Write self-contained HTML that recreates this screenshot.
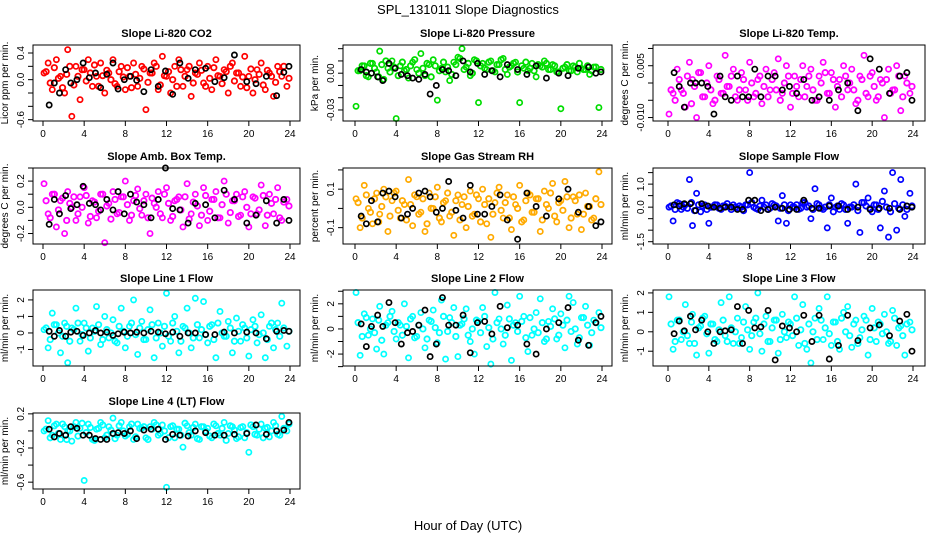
<!DOCTYPE html>
<html><head><meta charset="utf-8"><style>
html,body{margin:0;padding:0;background:#fff;}
svg{display:block;font-family:"Liberation Sans",sans-serif;}
</style></head><body>
<svg id="chart" width="936" height="540" viewBox="0 0 936 540" xmlns="http://www.w3.org/2000/svg">
<text x="468" y="14" text-anchor="middle" font-size="13">SPL_131011  Slope Diagnostics</text>
<text x="468" y="530" text-anchor="middle" font-size="13">Hour of Day (UTC)</text>
</svg>
<script>
var hoursColored=[0.1,0.5,0.9,1.3,1.7,2.1,2.4,2.8,3.2,3.6,4.0,4.4,4.8,5.2,5.6,6.0,6.4,6.8,7.2,7.6,8.0,8.4,8.8,9.2,9.6,10.0,10.4,10.8,11.2,11.6,12.0,12.4,12.8,13.2,13.6,14.0,14.4,14.8,15.2,15.6,16.0,16.4,16.8,17.2,17.6,18.0,18.4,18.8,19.2,19.6,20.0,20.4,20.8,21.2,21.6,22.0,22.4,22.8,23.2,23.7];
var hoursDense=[0.3,0.7,1.1,1.5,1.9,2.3,2.6,3.0,3.4,3.8,4.2,4.6,5.0,5.4,5.8,6.2,6.6,7.0,7.4,7.8,8.2,8.6,9.0,9.4,9.8,10.2,10.6,11.0,11.4,11.8,12.2,12.6,13.0,13.4,13.8,14.2,14.6,15.0,15.4,15.8,16.2,16.6,17.0,17.4,17.8,18.2,18.6,19.0,19.4,19.8,20.2,20.6,21.0,21.4,21.8,22.2,22.6,23.0,23.4,23.9];
var hoursBlack=[0.6,1.1,1.6,2.2,2.7,3.3,3.9,4.5,5.1,5.6,6.2,6.8,7.3,7.9,8.5,9.1,9.8,10.5,11.2,11.9,12.6,13.3,14.1,14.8,15.8,16.7,17.6,18.6,19.8,20.7,21.7,22.7,23.4,23.9];
var xTicks=[0,4,8,12,16,20,24];
var titles=["Slope Li-820 CO2","Slope Li-820 Pressure","Slope Li-820 Temp.","Slope Amb. Box Temp.","Slope Gas Stream RH","Slope Sample Flow","Slope Line 1 Flow","Slope Line 2 Flow","Slope Line 3 Flow","Slope Line 4 (LT) Flow"];
var yLabels=["Licor ppm per min.","kPa per min.","degrees C per min.","degrees C per min.","percent per min.","ml/min per min.","ml/min per min.","ml/min per min.","ml/min per min.","ml/min per min."];
var colors=["#ff0000","#00dd00","#ff00ff","#ff00ff","#ffaa00","#0000ff","#00ffff","#00ffff","#00ffff","#00ffff"];
var yMin=[-0.62,-0.039,-0.011,-0.28,-0.185,-1.6,-2.0,-2.95,-1.76,-0.68];
var yMax=[0.52,0.023,0.011,0.30,0.21,1.7,2.6,3.1,2.15,0.21];
var yTicks=[[-0.6,-0.4,-0.2,0,0.2,0.4],[-0.03,-0.02,-0.01,0,0.01,0.02],[-0.01,-0.005,0,0.005,0.01],[-0.2,-0.1,0,0.1,0.2,0.3],[-0.1,0,0.1,0.2],[-1.5,-1,-0.5,0,0.5,1,1.5],[-1,0,1,2],[-3,-2,-1,0,1,2,3],[-1,0,1,2],[-0.6,-0.4,-0.2,0,0.2]];
var yTickLabels=[["-0.6","","","0.0","","0.4"],["-0.03","","","0.00","",""],["-0.010","","","0.005",""],["-0.2","","0.0","","0.2",""],["-0.1","","0.1",""],["-1.5","","","0.0","","1.0",""],["-1","0","1","2"],["","-2","","0","","2",""],["-1","0","1","2"],["-0.6","","-0.2","","0.2"]];
var valsCO2=[0.1,0.25,-0.15,0.3,0.05,-0.2,0.45,-0.55,0.2,-0.3,0.15,0.3,-0.1,0.05,0.25,-0.2,0.1,0.3,-0.1,0.2,-0.15,0.05,0.25,-0.1,0.2,-0.45,0.1,0.25,-0.15,0.35,0.05,-0.2,0.2,0.3,-0.1,0.15,-0.25,0.1,0.25,-0.05,0.2,-0.15,0.3,0.05,0.15,-0.2,0.25,0.1,-0.1,0.35,0.05,-0.2,0.15,0.25,-0.15,0.1,-0.25,0.2,0.05,-0.1];
var bandCO2=[0.12,-0.05,0.18,0.02,-0.12,0.08,0.2,-0.08,0.05,0.15,-0.02,0.1,0.22,-0.1,0.06,0.14,0.0,-0.06,0.12,0.04,0.18,-0.12,0.08,0.02,0.16,-0.04,0.1,0.2,-0.08,0.06,0.12,0.0,-0.1,0.15,0.05,0.2,-0.05,0.08,0.14,-0.1,0.02,0.18,0.06,-0.06,0.12,0.2,-0.02,0.1,0.04,-0.12,0.16,0.0,0.08,-0.08,0.14,0.05,-0.04,0.12,0.2,0.02];
var blackCO2=[-0.38,-0.05,-0.2,0.15,-0.05,0.0,0.25,0.03,0.1,-0.12,0.08,0.25,-0.14,0.0,0.05,-0.01,-0.18,0.15,-0.1,0.13,-0.22,0.25,0.02,0.15,0.17,-0.03,0.03,0.37,-0.03,-0.06,0.05,-0.24,0.11,0.2];
var valsPress=[-0.027,0.002,0.006,-0.003,0.008,0.001,0.018,-0.005,0.004,0.010,-0.037,0.006,0.002,-0.004,0.009,0.003,0.016,-0.002,0.007,0.011,-0.022,0.004,0.001,-0.006,0.009,0.013,0.020,0.005,-0.002,0.011,-0.024,0.008,0.003,0.010,0.001,0.007,0.012,-0.001,0.006,0.009,-0.024,0.004,0.002,0.008,-0.003,0.006,0.010,0.003,0.007,0.001,-0.029,0.005,0.002,0.006,0.001,0.004,0.003,-0.001,0.005,-0.028];
var bandPress=[0.002,0.006,-0.002,0.008,0.004,-0.003,0.007,0.010,0.001,0.005,-0.002,0.009,0.003,0.006,0.011,0.000,0.004,0.008,-0.003,0.006,0.002,0.009,0.005,-0.001,0.007,0.012,0.003,0.008,0.000,0.010,0.006,0.004,0.009,0.002,0.007,0.011,0.003,0.005,0.008,0.001,0.006,0.009,0.004,0.002,0.007,0.005,0.008,0.003,0.006,0.001,0.004,0.007,0.002,0.005,0.008,0.003,0.006,0.002,0.005,0.003];
var blackPress=[0.003,0.001,0.0,-0.003,-0.006,0.008,0.004,-0.001,-0.002,-0.004,-0.005,-0.001,-0.017,-0.010,0.003,0.002,-0.002,0.010,0.001,0.008,-0.001,0.002,-0.003,0.007,0.003,-0.001,0.006,-0.004,0.0,-0.002,0.004,0.005,0.000,0.001];
var valsTemp=[-0.009,-0.003,0.004,-0.002,-0.007,0.006,0.001,-0.010,0.003,-0.004,0.005,-0.006,0.002,-0.003,0.008,-0.001,0.004,-0.005,0.003,-0.002,0.006,-0.004,0.001,-0.006,0.004,-0.002,0.003,0.007,-0.003,0.005,-0.007,0.002,-0.004,0.005,-0.001,0.004,-0.005,0.002,0.006,-0.003,0.003,-0.007,0.001,0.005,-0.002,0.004,-0.006,0.002,0.008,-0.004,0.003,-0.005,0.001,-0.010,0.004,-0.002,0.005,-0.008,0.002,-0.003];
var bandTemp=[-0.002,-0.005,0.001,-0.003,0.002,-0.006,-0.001,0.003,-0.004,0.000,-0.002,-0.005,0.001,-0.003,-0.001,0.002,-0.004,-0.002,0.001,-0.005,0.000,-0.003,0.002,-0.001,-0.004,0.001,-0.002,-0.005,0.000,0.002,-0.003,-0.001,0.001,-0.004,0.002,-0.002,-0.005,0.000,0.003,-0.003,0.001,-0.001,-0.004,0.002,0.000,-0.002,-0.005,0.001,-0.003,0.002,-0.001,-0.004,0.000,0.001,-0.003,-0.002,0.002,-0.004,0.000,-0.001];
var blackTemp=[0.003,-0.001,-0.007,0.0,0.0,0.0,-0.001,-0.009,0.002,-0.004,-0.005,0.002,-0.004,-0.004,0.004,-0.004,0.002,0.002,-0.002,-0.001,-0.003,0.001,-0.005,-0.004,-0.005,-0.002,0.000,-0.008,0.007,0.004,-0.003,0.002,0.003,-0.005];
var valsBox=[0.18,-0.05,0.1,-0.15,0.05,-0.2,0.12,0.0,-0.1,0.08,0.15,-0.12,0.05,-0.08,0.1,-0.27,0.03,0.12,-0.05,0.08,0.2,-0.1,0.05,0.14,-0.06,0.1,-0.2,0.03,0.12,-0.08,0.15,-0.1,0.05,0.08,-0.15,0.18,-0.05,0.1,-0.14,0.15,-0.1,0.06,0.12,-0.08,0.2,-0.12,0.05,0.1,-0.06,0.12,-0.15,0.08,-0.05,0.17,-0.14,0.1,-0.05,0.15,-0.1,0.06];
var bandBox=[0.05,-0.08,0.1,-0.02,0.07,-0.1,0.03,0.08,-0.05,0.0,0.09,-0.07,0.04,-0.03,0.1,0.01,-0.09,0.06,-0.04,0.08,0.02,-0.06,0.09,-0.01,0.05,-0.08,0.07,0.0,-0.05,0.1,0.03,-0.07,0.06,-0.02,0.08,-0.09,0.04,0.01,-0.06,0.09,-0.03,0.06,-0.08,0.02,0.1,-0.04,0.05,-0.07,0.08,0.0,-0.05,0.07,-0.02,0.09,-0.06,0.03,0.06,-0.08,0.04,0.01];
var blackBox=[-0.13,0.06,-0.05,0.09,-0.01,0.02,0.16,0.03,0.02,-0.02,0.06,-0.02,0.12,-0.05,0.1,0.04,0.02,-0.08,0.06,0.3,-0.01,-0.02,-0.12,0.03,0.02,-0.08,0.13,0.06,-0.12,-0.06,0.05,-0.12,0.06,-0.1];
var valsRH=[0.05,-0.1,0.12,0.0,-0.08,0.08,-0.03,0.1,-0.12,0.04,0.09,-0.05,0.02,0.15,-0.09,0.06,-0.02,-0.12,0.08,0.0,0.11,-0.07,0.04,-0.04,-0.14,0.07,0.02,-0.1,0.09,-0.03,0.05,0.1,-0.08,-0.15,0.03,0.11,-0.05,0.07,-0.11,0.02,0.12,-0.06,0.08,-0.02,0.05,-0.12,0.09,0.0,0.13,-0.07,0.04,0.14,-0.1,0.06,-0.03,-0.11,0.08,0.01,-0.05,0.19];
var bandRH=[0.03,-0.05,0.07,-0.02,0.05,-0.07,0.01,0.06,-0.04,0.08,-0.01,0.04,-0.06,0.02,0.07,-0.03,0.05,-0.08,0.0,0.06,-0.05,0.03,0.08,-0.02,0.04,-0.06,0.06,0.01,-0.04,0.07,-0.07,0.02,0.05,-0.03,0.08,-0.01,0.03,-0.05,0.06,0.0,-0.07,0.04,0.07,-0.02,0.05,-0.06,0.02,0.08,-0.04,0.03,-0.01,0.06,-0.05,0.04,0.07,-0.03,0.01,-0.06,0.05,0.02];
var blackRH=[-0.04,-0.08,0.04,-0.07,0.08,0.09,0.06,-0.05,-0.03,0.0,0.08,0.09,0.06,-0.02,0.0,0.14,-0.01,-0.05,0.12,-0.03,-0.03,0.01,0.07,-0.06,-0.16,0.08,0.01,-0.04,0.05,0.1,-0.02,0.01,-0.09,-0.07];
var valsSample=[0.0,-0.6,0.2,-0.1,0.1,1.2,-0.8,0.6,-0.2,0.1,-0.7,0.0,0.1,-0.1,0.05,0.0,0.1,-0.05,0.0,0.1,1.5,0.0,-0.1,0.3,0.1,-0.05,0.1,-0.6,0.5,-0.7,0.1,0.0,-0.1,0.2,0.0,-0.5,0.8,0.1,-0.1,-0.9,0.4,0.0,-0.1,0.1,-0.7,0.0,1.0,-1.1,0.2,0.4,-0.2,0.1,-0.9,0.7,-1.3,1.5,-1.0,1.2,-0.4,0.6];
var bandSample=[0.05,-0.1,0.15,0.0,-0.05,0.2,-0.15,0.1,0.05,-0.1,0.0,0.1,-0.05,0.05,0.15,-0.1,0.0,0.05,-0.15,0.1,0.2,-0.05,0.05,0.0,-0.1,0.15,0.05,-0.05,0.1,-0.15,0.0,0.1,-0.05,0.2,0.05,-0.1,0.15,-0.05,0.0,0.1,-0.2,0.05,0.15,-0.1,0.0,0.1,-0.15,0.2,0.05,-0.05,0.1,-0.1,0.25,0.0,-0.2,0.15,-0.05,0.1,-0.1,0.05];
var blackSample=[0.1,0.05,0.15,0.15,-0.15,0.15,0.05,0.0,-0.05,0.0,0.0,-0.1,-0.1,0.3,0.3,-0.15,-0.1,0.0,-0.05,-0.1,-0.1,0.3,-0.05,-0.05,0.05,0.05,-0.1,0.0,-0.1,-0.05,-0.05,-0.1,0.05,0.0];
var valsLine1=[0.2,-0.9,1.2,0.5,-1.2,0.6,-1.8,0.3,1.5,-0.5,0.6,-1.1,0.3,1.6,-0.7,1.0,-0.3,0.8,-0.6,1.5,-0.9,0.4,2.0,-1.3,0.7,-0.4,1.4,-1.5,0.6,-0.8,2.4,-0.5,1.0,-1.2,0.4,1.5,-0.9,2.1,-0.3,1.9,-0.6,0.5,-1.5,1.3,-0.2,0.7,-1.2,0.9,-0.5,0.3,-1.4,0.8,-0.6,1.1,-1.5,0.4,-0.9,0.6,1.8,-0.8];
var bandLine1=[0.3,-0.4,0.5,0.0,-0.2,0.4,-0.5,0.2,0.6,-0.1,0.3,-0.3,0.1,0.5,-0.4,0.2,0.0,-0.5,0.4,0.1,-0.2,0.6,-0.1,0.3,-0.4,0.2,0.5,-0.3,0.0,0.4,-0.2,0.6,0.1,-0.5,0.3,0.0,-0.3,0.5,0.2,-0.1,0.4,-0.4,0.6,0.0,-0.2,0.3,-0.5,0.1,0.5,-0.3,0.2,0.4,-0.1,0.0,-0.4,0.6,0.2,-0.2,0.3,0.1];
var blackLine1=[0.1,-0.2,0.15,-0.2,0.05,0.1,-0.15,0.0,0.15,0.0,0.05,-0.15,-0.05,0.05,0.0,0.05,0.0,0.1,0.05,-0.05,0.05,-0.2,0.0,0.0,-0.1,-0.1,0.05,0.0,0.05,0.0,-0.35,0.1,0.15,0.1];
var valsLine2=[2.9,-2.1,1.2,-0.5,0.8,-1.6,1.8,-2.0,0.5,1.4,-0.8,0.3,2.0,-2.3,1.0,-0.6,1.3,-1.5,0.7,1.5,-1.1,2.3,-2.4,0.9,1.7,-2.2,0.4,1.6,-1.0,-2.0,0.6,1.7,-1.4,-2.8,2.9,0.8,-1.2,1.9,-2.5,0.5,2.6,1.0,-1.8,-0.5,1.3,2.4,-1.0,0.6,1.6,-0.8,1.2,-1.5,2.6,2.1,-1.2,0.9,1.8,-1.3,0.7,1.3];
var bandLine2=[0.5,-0.6,0.9,0.0,-0.3,0.7,-0.9,0.3,1.0,-0.2,0.5,-0.5,0.2,0.8,-0.7,0.3,0.0,-0.8,0.6,0.1,-0.3,1.0,-0.2,0.5,-0.6,0.3,0.8,-0.5,0.0,0.7,-0.3,1.0,0.1,-0.8,0.5,0.0,-0.5,0.8,0.3,-0.2,0.6,-0.7,0.9,0.0,-0.3,0.5,-0.8,0.2,0.8,-0.5,0.3,0.7,-0.2,0.0,-0.7,0.9,0.3,-0.3,0.5,0.1];
var blackLine2=[0.4,-1.4,0.2,1.1,0.2,2.1,0.5,-1.2,-0.3,-0.2,0.3,1.5,-2.2,-1.2,2.5,0.3,0.3,1.1,-1.9,0.5,0.6,-0.4,1.8,0.1,0.3,-1.2,-2.0,0.0,0.5,1.7,-0.9,-1.3,0.5,1.0];
var valsLine3=[1.8,-0.9,0.6,-0.4,1.4,-0.6,0.9,-1.2,0.3,0.8,-1.1,0.4,-0.5,1.5,-0.2,1.8,-0.6,0.7,-0.3,1.3,-0.9,0.5,2.0,-1.0,0.8,-0.5,0.6,-1.1,0.9,-0.3,0.4,1.8,-0.7,1.4,-0.9,-1.6,0.7,1.2,-0.4,1.8,-0.7,0.5,-0.9,1.0,1.3,-0.8,0.6,-0.3,0.8,-1.2,1.2,-0.5,0.4,0.9,-0.6,1.1,-0.7,0.3,-1.2,0.5];
var bandLine3=[0.4,-0.5,0.6,0.0,-0.2,0.5,-0.6,0.2,0.7,-0.1,0.4,-0.4,0.1,0.6,-0.5,0.2,0.0,-0.6,0.5,0.1,-0.2,0.7,-0.1,0.4,-0.5,0.2,0.6,-0.4,0.0,0.5,-0.2,0.7,0.1,-0.6,0.4,0.0,-0.4,0.6,0.2,-0.1,0.5,-0.5,0.7,0.0,-0.2,0.4,-0.6,0.1,0.6,-0.4,0.2,0.5,-0.1,0.0,-0.5,0.7,0.2,-0.2,0.4,0.1];
var blackLine3=[-0.1,0.55,0.05,0.8,0.1,0.6,0.0,-0.6,0.0,0.05,0.1,1.3,-0.6,1.1,0.2,0.25,1.1,-1.45,0.3,0.2,0.0,0.85,-0.5,0.85,-1.4,-0.7,0.85,-0.45,0.2,0.35,-0.2,0.55,0.9,-1.0];
var valsLine4=[0.0,0.12,-0.05,0.08,-0.1,0.05,0.0,-0.12,0.1,0.03,-0.58,0.08,-0.1,0.02,0.1,-0.08,0.05,0.15,-0.05,0.1,-0.06,0.05,-0.1,0.08,0.03,-0.08,0.05,0.1,-0.05,0.07,-0.66,0.05,-0.08,0.02,-0.19,0.06,-0.05,0.08,-0.1,0.05,0.03,-0.08,0.06,-0.05,0.1,-0.03,0.05,-0.09,0.04,-0.08,-0.25,0.05,-0.05,0.08,0.03,-0.07,0.1,-0.04,0.17,0.0];
var bandLine4=[0.02,-0.08,0.06,-0.03,0.08,-0.1,0.0,0.05,-0.06,0.09,-0.02,0.04,-0.11,0.03,0.07,-0.05,0.01,-0.09,0.06,0.0,-0.04,0.08,-0.07,0.03,0.05,-0.1,0.02,0.07,-0.03,0.0,-0.08,0.06,0.02,-0.05,0.09,-0.02,0.04,-0.09,0.05,0.0,-0.06,0.08,-0.03,0.03,-0.11,0.06,0.01,-0.07,0.05,-0.02,0.07,-0.04,0.02,-0.08,0.04,0.0,0.06,-0.05,0.03,0.08];
var blackLine4=[0.02,-0.07,-0.03,-0.05,0.05,0.03,-0.05,-0.05,-0.09,-0.1,-0.1,-0.03,-0.02,-0.03,0.0,-0.09,0.01,0.02,0.02,-0.1,-0.04,-0.05,-0.06,0.0,-0.02,-0.05,-0.05,-0.04,-0.03,0.07,-0.04,0.0,0.01,0.1];
var seriesColored=[valsCO2,valsPress,valsTemp,valsBox,valsRH,valsSample,valsLine1,valsLine2,valsLine3,valsLine4];
var seriesBand=[bandCO2,bandPress,bandTemp,bandBox,bandRH,bandSample,bandLine1,bandLine2,bandLine3,bandLine4];
var seriesBlack=[blackCO2,blackPress,blackTemp,blackBox,blackRH,blackSample,blackLine1,blackLine2,blackLine3,blackLine4];

(function(){
var NS="http://www.w3.org/2000/svg";
var svg=document.getElementById("chart");
var colBox=[[33,300,43,290],[343,612,355,602],[653,925,668,913]];
var rowTop=[45,168,290,413];
var boxH=76;
function mk(tag,attrs,parent){var e=document.createElementNS(NS,tag);for(var k in attrs)e.setAttribute(k,attrs[k]);(parent||svg).appendChild(e);return e;}
function slug(s){return s.toLowerCase().replace(/[^a-z0-9]+/g,'-').replace(/^-|-$/g,'');}
for(var p=0;p<10;p++){
  var c=p%3,rr=Math.floor(p/3);
  var bx0=colBox[c][0],bx1=colBox[c][1],x0=colBox[c][2],x24=colBox[c][3];
  var pTop=rowTop[rr],pBot=pTop+boxH;
  var lo=yMin[p],hi=yMax[p];
  var xs=(function(a,b){return function(h){return a+(b-a)*h/24;};})(x0,x24);
  var ys=(function(t,b,l,h){return function(v){return b-(v-l)/(h-l)*(b-t);};})(pTop,pBot,lo,hi);
  var g=mk("g",{});
  
  
  var t=mk("text",{x:(bx0+bx1)/2,y:pTop-8,"text-anchor":"middle","font-size":"11","font-weight":"bold"},g);
  t.textContent=titles[p];
  
  
  var cx=bx0-25,cy=(pTop+pBot)/2;
  var yl=mk("text",{x:cx,y:cy,"text-anchor":"middle","font-size":"10",transform:"rotate(-90 "+cx+" "+cy+")"},g);
  yl.textContent=yLabels[p];
  
  
  var bd=mk("g",{fill:"none","stroke-width":"1.8"},g);
  
  
  var vd=seriesBand[p];
  for(var i=0;i<Math.min(vd.length,hoursDense.length);i++){
    var cd=mk("circle",{cx:xs(hoursDense[i]),cy:ys(vd[i]),r:2.7,stroke:colors[p]},bd);
    
    
  }
  var pts=mk("g",{fill:"none","stroke-width":"1.7"},g);
  
  
  var vs=seriesColored[p];
  for(var i=0;i<Math.min(vs.length,hoursColored.length);i++){
    var ci=mk("circle",{cx:xs(hoursColored[i]),cy:ys(vs[i]),r:2.6,stroke:colors[p]},pts);
    
    
  }
  var bp=mk("g",{fill:"none","stroke-width":"1.7",stroke:"#000"},g);
  
  
  var vb=seriesBlack[p];
  for(var i=0;i<Math.min(vb.length,hoursBlack.length);i++){
    var cb=mk("circle",{cx:xs(hoursBlack[i]),cy:ys(vb[i]),r:2.6},bp);
    
    
  }
  var box=mk("rect",{x:bx0,y:pTop,width:bx1-bx0,height:boxH,fill:"none",stroke:"#000","stroke-width":"1"},g);
  
  
  var xa=mk("g",{},g);
  
  
  for(var k=0;k<xTicks.length;k++){
    var xx=xs(xTicks[k]);
    mk("line",{x1:xx,x2:xx,y1:pBot,y2:pBot+5,stroke:"#000"},xa);
    var tl=mk("text",{x:xx,y:pBot+16,"text-anchor":"middle","font-size":"10"},xa);
    tl.textContent=xTicks[k];
  }
  var ya=mk("g",{},g);
  
  
  var tk=yTicks[p];
  for(var k=0;k<tk.length;k++){
    var yy=ys(tk[k]);
    if(yy<pTop-1||yy>pBot+1)continue;
    mk("line",{x1:bx0-5,x2:bx0,y1:yy,y2:yy,stroke:"#000"},ya);
    if(yTickLabels[p][k]){
      var lx=bx0-9;
      var yt=mk("text",{x:lx,y:yy,"text-anchor":"middle","font-size":"10",transform:"rotate(-90 "+lx+" "+yy+")"},ya);
      yt.textContent=yTickLabels[p][k];
    }
  }
}
})();
</script>
</body></html>
